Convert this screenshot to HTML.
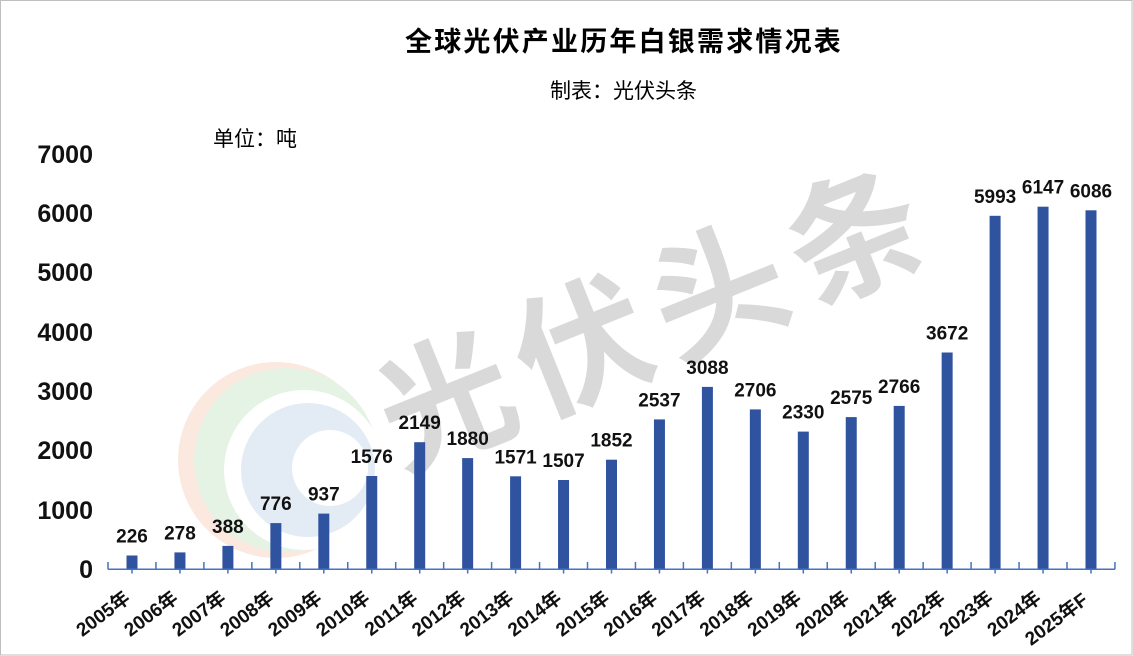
<!DOCTYPE html>
<html>
<head>
<meta charset="utf-8">
<style>
  html, body { margin:0; padding:0; background:#fff; }
  body { width:1133px; height:656px; overflow:hidden; }
  svg { display:block; }
  .cjk { font-family: "Liberation Sans", "Noto Sans CJK SC", "WenQuanYi Zen Hei", sans-serif; }
  .num { font-family: "Liberation Sans", "Noto Sans CJK SC", sans-serif; font-weight:bold; fill:#111; }
</style>
</head>
<body>
<svg width="1133" height="656" viewBox="0 0 1133 656" xmlns="http://www.w3.org/2000/svg">
  <rect x="0" y="0" width="1133" height="656" fill="#fff"/>

  <!-- watermark logo -->
  <g opacity="0.9">
    <circle cx="276" cy="460" r="98" fill="#fbe6dc"/>
    <circle cx="286" cy="460" r="92" fill="#e2f2e2"/>
    <circle cx="304" cy="470" r="80" fill="#ffffff"/>
    <circle cx="308" cy="470" r="67" fill="#e0eaf5"/>
    <circle cx="330" cy="468" r="38" fill="#ffffff"/>
  </g>

  <!-- watermark text -->
  <text x="658" y="322" transform="rotate(-22 651 322)" text-anchor="middle" dominant-baseline="central"
        class="cjk" font-size="134" font-weight="bold" letter-spacing="13" fill="#d9d9d9">光伏头条</text>

  <!-- title -->
  <text x="405" y="51" class="cjk" font-size="27" font-weight="bold" letter-spacing="2.2" fill="#000">全球光伏产业历年白银需求情况表</text>
  <text x="550" y="98" class="cjk" font-size="21" fill="#000">制表：光伏头条</text>
  <text x="213" y="146" class="cjk" font-size="21" fill="#000">单位：吨</text>

  <!-- y axis labels -->
  <g class="num" font-size="25" text-anchor="end">
    <text x="93" y="163">7000</text>
    <text x="93" y="222">6000</text>
    <text x="93" y="281">5000</text>
    <text x="93" y="341">4000</text>
    <text x="93" y="400">3000</text>
    <text x="93" y="459">2000</text>
    <text x="93" y="519">1000</text>
    <text x="93" y="578">0</text>
  </g>

  <!-- bars -->
  <g fill="#2f539f">
    <rect x="126.5" y="555.5" width="11" height="13.3"/>
    <rect x="174.45" y="552.4" width="11" height="16.4"/>
    <rect x="222.4" y="545.9" width="11" height="22.9"/>
    <rect x="270.35" y="523.1" width="11" height="45.7"/>
    <rect x="318.3" y="513.6" width="11" height="55.2"/>
    <rect x="366.25" y="476.0" width="11" height="92.8"/>
    <rect x="414.2" y="442.2" width="11" height="126.6"/>
    <rect x="462.15" y="458.1" width="11" height="110.7"/>
    <rect x="510.1" y="476.3" width="11" height="92.5"/>
    <rect x="558.05" y="480.0" width="11" height="88.8"/>
    <rect x="606.0" y="459.7" width="11" height="109.1"/>
    <rect x="653.95" y="419.4" width="11" height="149.4"/>
    <rect x="701.9" y="386.9" width="11" height="181.9"/>
    <rect x="749.85" y="409.4" width="11" height="159.4"/>
    <rect x="797.8" y="431.6" width="11" height="137.2"/>
    <rect x="845.75" y="417.1" width="11" height="151.7"/>
    <rect x="893.7" y="405.9" width="11" height="162.9"/>
    <rect x="941.65" y="352.5" width="11" height="216.3"/>
    <rect x="989.6" y="215.8" width="11" height="353.0"/>
    <rect x="1037.55" y="206.7" width="11" height="362.1"/>
    <rect x="1085.5" y="210.3" width="11" height="358.5"/>
  </g>

  <!-- data labels -->
  <g class="num" font-size="19" text-anchor="middle">
    <text x="132" y="542.5">226</text>
    <text x="179.95" y="539.4">278</text>
    <text x="227.9" y="532.9">388</text>
    <text x="275.85" y="510.1">776</text>
    <text x="323.8" y="500.6">937</text>
    <text x="371.75" y="463">1576</text>
    <text x="419.7" y="429.2">2149</text>
    <text x="467.65" y="445.1">1880</text>
    <text x="515.6" y="463.3">1571</text>
    <text x="563.55" y="467">1507</text>
    <text x="611.5" y="446.7">1852</text>
    <text x="659.45" y="406.4">2537</text>
    <text x="707.4" y="373.9">3088</text>
    <text x="755.35" y="396.4">2706</text>
    <text x="803.3" y="418.6">2330</text>
    <text x="851.25" y="404.1">2575</text>
    <text x="899.2" y="392.9">2766</text>
    <text x="947.15" y="339.5">3672</text>
    <text x="995.1" y="202.8">5993</text>
    <text x="1043.05" y="193.7">6147</text>
    <text x="1091" y="197.3">6086</text>
  </g>

  <!-- x axis -->
  <g stroke="#4472c4" stroke-width="1.5" fill="none">
    <line x1="108" y1="569.3" x2="1115" y2="569.3"/>
    <path d="M108 562V569.3M155.95 562V569.3M203.9 562V569.3M251.85 562V569.3M299.8 562V569.3M347.75 562V569.3M395.7 562V569.3M443.65 562V569.3M491.6 562V569.3M539.55 562V569.3M587.5 562V569.3M635.45 562V569.3M683.4 562V569.3M731.35 562V569.3M779.3 562V569.3M827.25 562V569.3M875.2 562V569.3M923.15 562V569.3M971.1 562V569.3M1019.05 562V569.3M1067 562V569.3M1114.95 562V569.3"/>
    <path d="M132 569.3V573.5M179.95 569.3V573.5M227.9 569.3V573.5M275.85 569.3V573.5M323.8 569.3V573.5M371.75 569.3V573.5M419.7 569.3V573.5M467.65 569.3V573.5M515.6 569.3V573.5M563.55 569.3V573.5M611.5 569.3V573.5M659.45 569.3V573.5M707.4 569.3V573.5M755.35 569.3V573.5M803.3 569.3V573.5M851.25 569.3V573.5M899.2 569.3V573.5M947.15 569.3V573.5M995.1 569.3V573.5M1043.05 569.3V573.5M1091 569.3V573.5"/>
  </g>

  <!-- category labels -->
  <g class="num" font-size="19" text-anchor="end" dominant-baseline="central">
    <text x="128" y="596" transform="rotate(-37 128 596)">2005年</text>
    <text x="175.95" y="596" transform="rotate(-37 175.95 596)">2006年</text>
    <text x="223.9" y="596" transform="rotate(-37 223.9 596)">2007年</text>
    <text x="271.85" y="596" transform="rotate(-37 271.85 596)">2008年</text>
    <text x="319.8" y="596" transform="rotate(-37 319.8 596)">2009年</text>
    <text x="367.75" y="596" transform="rotate(-37 367.75 596)">2010年</text>
    <text x="415.7" y="596" transform="rotate(-37 415.7 596)">2011年</text>
    <text x="463.65" y="596" transform="rotate(-37 463.65 596)">2012年</text>
    <text x="511.6" y="596" transform="rotate(-37 511.6 596)">2013年</text>
    <text x="559.55" y="596" transform="rotate(-37 559.55 596)">2014年</text>
    <text x="607.5" y="596" transform="rotate(-37 607.5 596)">2015年</text>
    <text x="655.45" y="596" transform="rotate(-37 655.45 596)">2016年</text>
    <text x="703.4" y="596" transform="rotate(-37 703.4 596)">2017年</text>
    <text x="751.35" y="596" transform="rotate(-37 751.35 596)">2018年</text>
    <text x="799.3" y="596" transform="rotate(-37 799.3 596)">2019年</text>
    <text x="847.25" y="596" transform="rotate(-37 847.25 596)">2020年</text>
    <text x="895.2" y="596" transform="rotate(-37 895.2 596)">2021年</text>
    <text x="943.15" y="596" transform="rotate(-37 943.15 596)">2022年</text>
    <text x="991.1" y="596" transform="rotate(-37 991.1 596)">2023年</text>
    <text x="1039.05" y="596" transform="rotate(-37 1039.05 596)">2024年</text>
    <text x="1086" y="598" transform="rotate(-37 1086 598)">2025年F</text>
  </g>

  <!-- frame -->
  <rect x="0.5" y="0.5" width="1131.5" height="654.5" fill="none" stroke="#bfbfbf" stroke-width="1"/>
</svg>
</body>
</html>
